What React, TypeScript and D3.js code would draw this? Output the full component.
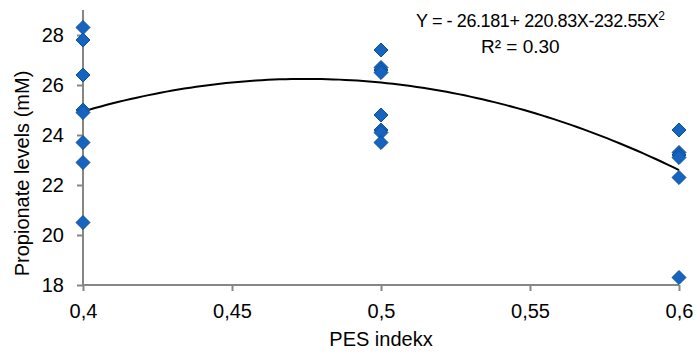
import * as d3 from 'd3';
import { useEffect, useRef } from 'react';

const width = 696;
const height = 354;

// PES index groups and the propionate readings at each
const pes04 = [28.3, 27.8, 26.4, 25.0, 24.9, 23.7, 22.9, 20.5];
const pes05 = [27.4, 26.7, 26.6, 26.5, 24.8, 24.2, 24.1, 23.7];
const pes06 = [24.2, 23.3, 23.2, 23.1, 22.3, 18.3];
const groups = [
  { x: 0.4, values: pes04 },
  { x: 0.5, values: pes05 },
  { x: 0.6, values: pes06 },
];

const xTicks = [0.4, 0.45, 0.5, 0.55, 0.6];
const yTicks = [18, 20, 22, 24, 26, 28];

// quadratic trendline coefficients (as printed on the chart)
const coefA = -26.181;
const coefB = 220.83;
const coefC = -232.55;

const font = 'Liberation Sans, Arial, sans-serif';
const axisColor = '#868686';

const App = () => {
  const svgRef = useRef<SVGSVGElement>(null);

  useEffect(() => {
    const svg = d3.select(svgRef.current);
    svg.selectAll('*').remove();

    const x = d3.scaleLinear().domain([0.4, 0.6]).range([83, 679]);
    const y = d3.scaleLinear().domain([18, 29]).range([285, 10]);

    // y axis
    const yAxis = svg
      .append('g')
      .attr('transform', `translate(${x(0.4)},0)`)
      .call(
        d3
          .axisLeft(y)
          .tickValues(yTicks)
          .tickSize(6)
          .tickPadding(13)
          .tickFormat((d) => String(d))
      );
    yAxis.select('.domain').attr('d', `M0,${y(18)}V${y(29)}`);

    const xAxis = svg
      .append('g')
      .attr('transform', `translate(0,${y(18)})`)
      .call(
        d3
          .axisBottom(x)
          .tickValues(xTicks)
          .tickSize(6)
          .tickPadding(13)
          .tickFormat((d) => String(+d).replace('.', ','))
      );
    xAxis.select('.domain').attr('d', `M${x(0.4)},0H${x(0.6)}`);

    svg
      .selectAll('.domain, .tick line')
      .attr('stroke', axisColor)
      .attr('stroke-width', 2);
    svg
      .selectAll('.tick text')
      .attr('fill', '#000')
      .style('font-size', '20px')
      .style('font-family', font);

    // axis titles
    svg
      .append('text')
      .attr('x', x(0.5))
      .attr('y', 346)
      .attr('text-anchor', 'middle')
      .style('font-size', '20px')
      .style('font-family', font)
      .text('PES indekx');

    svg
      .append('text')
      .attr('transform', `translate(29,${(y(18) + 62) / 2}) rotate(-90)`)
      .attr('text-anchor', 'middle')
      .style('font-size', '20px')
      .style('font-family', font)
      .text('Propionate levels (mM)');

    // trendline
    const xs = d3.range(0, 101).map((i) => 0.4 + (0.2 * i) / 100);
    const line = d3
      .line<number>()
      .x((d) => x(d))
      .y((d) => y(coefA + coefB * d + coefC * d * d));
    svg
      .append('path')
      .datum(xs)
      .attr('d', line)
      .attr('fill', 'none')
      .attr('stroke', '#000')
      .attr('stroke-width', 2);

    // points
    const pts = groups.flatMap((g) => g.values.map((v) => ({ x: g.x, v })));
    const diamond = d3.symbol().type(d3.symbolDiamond2).size(125);
    svg
      .append('g')
      .selectAll('path')
      .data(pts)
      .enter()
      .append('path')
      .attr('d', diamond)
      .attr('transform', (d) => `translate(${x(d.x)},${y(d.v)})`)
      .attr('fill', '#1565c0')
      .attr('stroke', '#0d4f99')
      .attr('stroke-width', 1);

    // equation
    const eq = svg
      .append('text')
      .attr('x', 416)
      .attr('y', 27)
      .style('font-size', '18px')
      .style('letter-spacing', '-0.4px')
      .style('font-family', font);
    eq.append('tspan').text('Y = - 26.181+ 220.83X-232.55X');
    eq.append('tspan').attr('dy', -7).style('font-size', '12px').text('2');

    svg
      .append('text')
      .attr('x', 481)
      .attr('y', 53)
      .style('font-size', '19px')
      .style('font-family', font)
      .text('R² = 0.30');
  }, []);

  return (
    <svg
      ref={svgRef}
      width={width}
      height={height}
      style={{ position: 'absolute', left: 0, top: 0, background: '#fff' }}
    ></svg>
  );
};

export default App;
